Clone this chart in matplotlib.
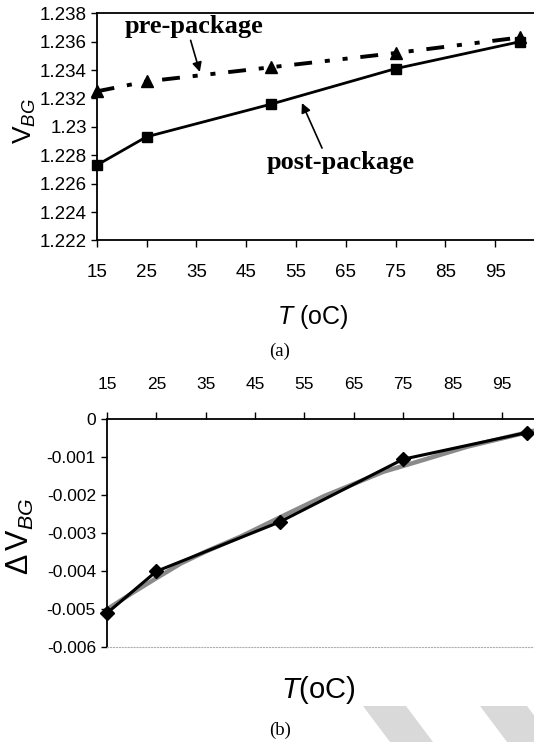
import matplotlib
matplotlib.use('Agg')
import matplotlib.pyplot as plt
from matplotlib.patches import Polygon

plt.rcParams['font.family'] = ['Liberation Sans', 'DejaVu Sans']
plt.rcParams['mathtext.fontset'] = 'custom'
plt.rcParams['mathtext.rm'] = 'Liberation Sans'
plt.rcParams['mathtext.it'] = 'Liberation Sans:italic'

# (a) bandgap voltage before / after packaging
temps = [15, 25, 50, 75, 100]
pre_package = [1.2325, 1.2332, 1.2342, 1.2352, 1.2363]
post_package = [1.2273, 1.2293, 1.2316, 1.2341, 1.2360]

# (b) shift in bandgap voltage, measured and trend curve
delta_vbg = [-0.0051, -0.0040, -0.0027, -0.00105, -0.00035]
trend_temps = [15, 20, 25, 30, 35, 42, 51, 59, 65, 71, 77, 88, 101.5]
trend_vbg = [-0.0050, -0.00458, -0.00418, -0.00379, -0.00348, -0.00309, -0.00252,
             -0.00202, -0.0017, -0.00138, -0.00115, -0.00072, -0.0003]

x_ticks = [15, 25, 35, 45, 55, 65, 75, 85, 95]
top_yticks = [1.222, 1.224, 1.226, 1.228, 1.23, 1.232, 1.234, 1.236, 1.238]
top_ylabels = ['1.222', '1.224', '1.226', '1.228', '1.23', '1.232', '1.234', '1.236', '1.238']
bot_yticks = [0, -0.001, -0.002, -0.003, -0.004, -0.005, -0.006]
bot_ylabels = ['0', '-0.001', '-0.002', '-0.003', '-0.004', '-0.005', '-0.006']

W, H = 534, 742
fig = plt.figure(figsize=(W / 100, H / 100), dpi=100)

# ---- top panel (a)
ax1 = fig.add_axes([0.1811, 0.6759, 0.8189, 0.3062])
# dash-dot-dot line for the pre-package curve
ax1.plot(temps, pre_package, color='black', lw=2.8,
         linestyle=(0, (4.6, 3.3, 1.3, 3.3, 1.3, 3.3)),
         marker='^', markersize=8, clip_on=False, zorder=3)
ax1.plot(temps, post_package, color='black', lw=2.0, marker='s', markersize=7.5,
         clip_on=False, zorder=3)
ax1.set_xlim(15, 102.8)
ax1.set_ylim(1.222, 1.238)
ax1.set_xticks(x_ticks)
ax1.set_xticklabels([str(t) for t in x_ticks], fontsize=13.5)
ax1.set_yticks(top_yticks)
ax1.set_yticklabels(top_ylabels, fontsize=13.5)
ax1.tick_params(axis='x', direction='out', length=5, width=1, pad=12)
ax1.tick_params(axis='y', direction='out', length=4, width=1, pad=3)
ax1.spines['right'].set_visible(False)
for s in ['left', 'top', 'bottom']:
    ax1.spines[s].set_linewidth(1.3)

ax1.annotate('pre-package', xy=(35.7, 1.23387), xytext=(20.6, 1.2371),
             fontsize=19, fontweight='bold', family='Liberation Serif', va='center',
             arrowprops=dict(arrowstyle='-|>', color='black', lw=1.2, mutation_scale=14,
                             shrinkA=0, shrinkB=0, relpos=(0.47, 0)))
ax1.annotate('post-package', xy=(56.2, 1.23168), xytext=(49.2, 1.2275),
             fontsize=19, fontweight='bold', family='Liberation Serif', va='center',
             arrowprops=dict(arrowstyle='-|>', color='black', lw=1.2, mutation_scale=14,
                             shrinkA=0, shrinkB=0, relpos=(0.38, 1.0)))

# axis titles placed on the figure so they sit where the scan has them
fig.text(0.0468, 0.8369, r'V$_{\mathit{BG}}$', fontsize=19, rotation=90,
         ha='center', va='center')
fig.text(0.586, 0.5728, r'$\mathit{T}$ (oC)', fontsize=18, ha='center', va='center')

# ---- bottom panel (b)
ax2 = fig.add_axes([0.2004, 0.1276, 0.7996, 0.3073])
ax2.plot(trend_temps, trend_vbg, color='#8a8a8a', lw=3.2, zorder=2, clip_on=False)
ax2.plot(temps, delta_vbg, color='black', lw=2.2, marker='D', markersize=7,
         zorder=3, clip_on=False)
ax2.set_xlim(15, 101.5)
ax2.set_ylim(-0.006, 0)
ax2.xaxis.tick_top()
ax2.set_xticks(x_ticks)
ax2.set_xticklabels([str(t) for t in x_ticks], fontsize=12.5)
ax2.set_yticks(bot_yticks)
ax2.set_yticklabels(bot_ylabels, fontsize=12.5)
ax2.tick_params(axis='x', direction='out', length=5, width=1, pad=15)
ax2.tick_params(axis='y', direction='out', length=4, width=1, pad=4)
ax2.spines['right'].set_visible(False)
ax2.spines['bottom'].set_color('#b0b0b0')
ax2.spines['bottom'].set_linestyle(':')
ax2.spines['top'].set_linewidth(1.3)
ax2.spines['left'].set_linewidth(1.3)

fig.text(0.0375, 0.2776, r'$\mathit{\Delta}\,$V$_{\mathit{BG}}$', fontsize=22, rotation=90,
         ha='center', va='center')
fig.text(0.5955, 0.0701, r'$\mathit{T}$(oC)', fontsize=21, ha='center', va='center')

# captions
fig.text(0.524, 0.526, '(a)', fontsize=13.5, family='Liberation Serif', ha='center', va='center')
fig.text(0.524, 0.016, '(b)', fontsize=13.5, family='Liberation Serif', ha='center', va='center')

# grey scan stripes in the bottom right corner
for pts in [[(363, 706), (406, 706), (433, 742), (390, 742)],
            [(480, 706), (527, 706), (554, 742), (507, 742)]]:
    fig.patches.append(Polygon([(x / W, 1 - y / H) for x, y in pts], closed=True,
                               transform=fig.transFigure, facecolor='#d9d9d9',
                               edgecolor='none', zorder=0))

fig.savefig('out.png', dpi=100)
